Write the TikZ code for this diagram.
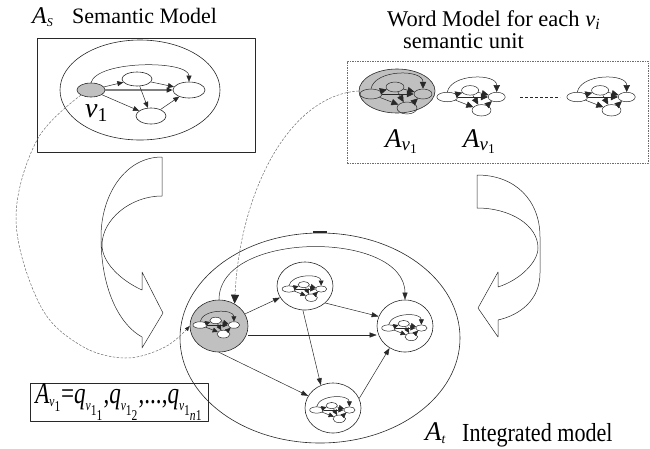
\documentclass[tikz,border=0pt]{standalone}
\usepackage{amsmath}
\usepackage{fontspec}
\setmainfont{Liberation Serif}
\usetikzlibrary{arrows.meta,shapes.geometric}

\definecolor{ink}{RGB}{40,40,40}
\definecolor{shade}{RGB}{192,192,192}
\definecolor{dashgray}{RGB}{110,110,110}

\newcommand\fsz[1]{\fontsize{#1}{#1}\selectfont}
\newcommand\wnh{1}
% italic letter with a small, low subscript
\newcommand\ssub[2]{\textit{#1}_{\scriptscriptstyle #2}}

\tikzset{
  heads/.code={\renewcommand\wnh{#1}},
  oval/.style={draw=ink, ellipse, inner sep=0pt, line width=0.6pt},
  wnode/.style={draw=ink, ellipse, inner sep=0pt, line width=0.5pt},
  wlink/.style={draw=ink, line width=0.5pt, -{Triangle[length=7pt,width=6.5pt,scale=\wnh]}},
  slink/.style={draw=ink, line width=0.5pt, -{Triangle[length=6pt,width=5pt]}},
  tlink/.style={draw=ink, line width=0.5pt, -{Triangle[length=7pt,width=5pt]}},
  bigarrow/.style={draw=ink, line width=0.5pt, fill=white},
  refline/.style={draw=dashgray, line width=0.5pt, dash pattern=on 2.5pt off 1.5pt},
  lbl/.style={inner sep=0pt, anchor=base west, text=black},
  % small word-level graph, scaled by the argument
  wordnet/.pic={
    \begin{scope}[scale=#1, transform shape]
      \node[wnode, minimum width=22, minimum height=10] (-L) at (-26,0) {};
      \node[wnode, minimum width=18, minimum height=10] (-T) at (-2,-7) {};
      \node[wnode, minimum width=18, minimum height=10] (-R) at (26,0) {};
      \node[wnode, minimum width=20, minimum height=12] (-B) at (10,14) {};
      \draw[wlink] (-L.north) .. controls (-22,-25) and (26,-25) .. (-R.north);
      \draw[wlink] (-L) -- (-T);
      \draw[wlink] (-L) -- (-R);
      \draw[wlink] (-L) -- (-B);
      \draw[wlink] (-T) -- (-R);
      \draw[wlink] (-T) -- (-B);
      \draw[wlink] (-B) -- (-R);
    \end{scope}
  }
}

\begin{document}
\begin{tikzpicture}[x=1pt, y=-1pt, line join=round]
\useasboundingbox (0,0) rectangle (650,448);

% ---------- semantic model ----------
\node[lbl] (tSa) at (32,23) {\fsz{24}$\ssub{A}{\textit{S}}$};
\node[lbl] (tSb) at (72,23) {\fsz{22}Semantic Model};
\node[draw=ink, line width=0.6pt, minimum width=218, minimum height=114, inner sep=0pt] (sbox) at (146,95) {};
\node[oval, minimum width=160, minimum height=100] (sm) at (140,90) {};
\node[oval, fill=shade, minimum width=28, minimum height=14] (s1) at (91,90) {};
\node[oval, minimum width=30, minimum height=14] (s2) at (137,79) {};
\node[oval, minimum width=32, minimum height=16] (s3) at (189,90) {};
\node[oval, minimum width=30, minimum height=16] (s4) at (151,116) {};
\node[lbl] (v1) at (85,117) {\fsz{28}$\textit{v}_{\text{1}}$};
\draw[slink] (s1.north) .. controls (97,60) and (189,60) .. (s3.north);
\draw[slink] (s1) -- (s2);
\draw[draw=gray, line width=1.4pt, -{Triangle[length=6pt,width=5pt,color=ink]}] (s1) -- (s3);
\draw[slink] (s1) -- (s4);
\draw[slink] (s2) -- (s3);
\draw[slink] (s2) -- (s4);
\draw[slink] (s4) -- (s3);

% ---------- word models ----------
\node[lbl] (tW1) at (387,26) {\fsz{22.5}Word Model for each $\textit{v}_{\textit{i}}$};
\node[lbl] (tW2) at (403,48) {\fsz{22.5}semantic unit};
\node[draw=dashgray, line width=0.6pt, dash pattern=on 1.5pt off 1pt, minimum width=301, minimum height=102, inner sep=0pt] (wbox) at (497.5,112) {};
\node[oval, fill=shade, minimum width=76, minimum height=44] (wa) at (397,91) {};
\pic (w1) at (397,94) {wordnet=1};
\pic (w2) at (472,97) {wordnet=0.95};
\pic (w3) at (602,97) {wordnet=0.95};
\coordinate (ga) at (520,97);
\coordinate (gb) at (560,97);
\draw[draw=ink, line width=0.5pt, dash pattern=on 3pt off 2pt] (ga) -- (gb);
\node[lbl] (la1) at (385,147) {\fsz{27}$\textit{A}_{\textit{v}_{\text{1}}}$};
\node[lbl] (la2) at (463,147) {\fsz{27}$\textit{A}_{\textit{v}_{\text{1}}}$};

% ---------- big curved arrows ----------
\draw[bigarrow] (162,157) .. controls (125,157) and (101,195) .. (101,237)
  .. controls (101,290) and (120,325) .. (142,337) -- (142,348) -- (163,313)
  -- (142,272) -- (142,290) .. controls (120,280) and (102,262) .. (102,245)
  .. controls (102,220) and (130,196) .. (162,196) -- cycle;
\draw[bigarrow] (477,175) .. controls (515,175) and (540,200) .. (540,237)
  -- (540,273) .. controls (540,300) and (520,315) .. (498,320) -- (498,337)
  -- (478,308) -- (498,272) -- (498,287) .. controls (520,280) and (538,262) .. (538,248)
  .. controls (538,225) and (510,208) .. (477,208) -- cycle;

% ---------- integrated model ----------
\node[oval, minimum width=280, minimum height=210] (at) at (320,338) {};
\coordinate (tk1) at (313,232);
\coordinate (tk2) at (327,232);
\draw[draw=ink, line width=1.2pt] (tk1) -- (tk2);
\node[oval, fill=shade, minimum width=58, minimum height=52] (G) at (219,326) {};
\node[oval, fill=white, minimum width=56, minimum height=48] (N1) at (305,286) {};
\node[oval, fill=white, minimum width=56, minimum height=52] (N2) at (405,326) {};
\node[oval, fill=white, minimum width=56, minimum height=50] (N3) at (333,408) {};
\pic[heads=0.75, wnode/.append style={fill=white}] (g0) at (217,325) {wordnet=0.65};
\pic[heads=0.75] (g1) at (305,289) {wordnet=0.62};
\pic[heads=0.75] (g2) at (405,328) {wordnet=0.63};
\pic[heads=0.75] (g3) at (333,410) {wordnet=0.63};
\draw[tlink] (G.north) .. controls (219,230) and (405,230) .. (N2.north);
\draw[tlink] (G) -- (N1);
\draw[tlink] ([yshift=-9pt]G.east) -- ([yshift=-9pt]N2.west);
\draw[tlink] (G.south) -- (N3);
\draw[tlink] (N1.-40) -- (N2.160);
\draw[tlink] (N1.265) -- (N3.118);
\draw[tlink] (N3.20) -- (N2.235);
\node[lbl] (tAa) at (425,440) {\fsz{27}$\ssub{A}{\textit{t}}$};
\node[lbl] (tAb) at (462,441) {\scalebox{0.85}[1]{\fsz{26}Integrated model}};

% ---------- expansion formula ----------
\node[draw=ink, line width=0.6pt, minimum width=178, minimum height=38, inner sep=0pt] (fm) at (119,402)
  {\scalebox{0.77}[1]{\fsz{30}$\ssub{A}{\textit{v}_{\text{1}}}\text{=}\ssub{q}{\textit{v}_{\text{1}_{\text{1}}}}\text{,}\ssub{q}{\textit{v}_{\text{1}_{\text{2}}}}\text{,...,}\ssub{q}{\textit{v}_{\text{1}_{\textit{n}\text{1}}}}$}};

% ---------- reference curves ----------
\draw[refline, -{Triangle[length=5pt,width=4pt,color=ink]}] plot[smooth, tension=0.6] coordinates
  {(s1.south west) (37,140) (16,220) (40,305) (80,345) (125,358) (165,347) (G.west)};
\draw[refline, -{Triangle[length=9pt,width=8pt,color=ink]}] (wa.west) .. controls (290,95) and (240,190) .. (G.55);
\end{tikzpicture}
\end{document}
